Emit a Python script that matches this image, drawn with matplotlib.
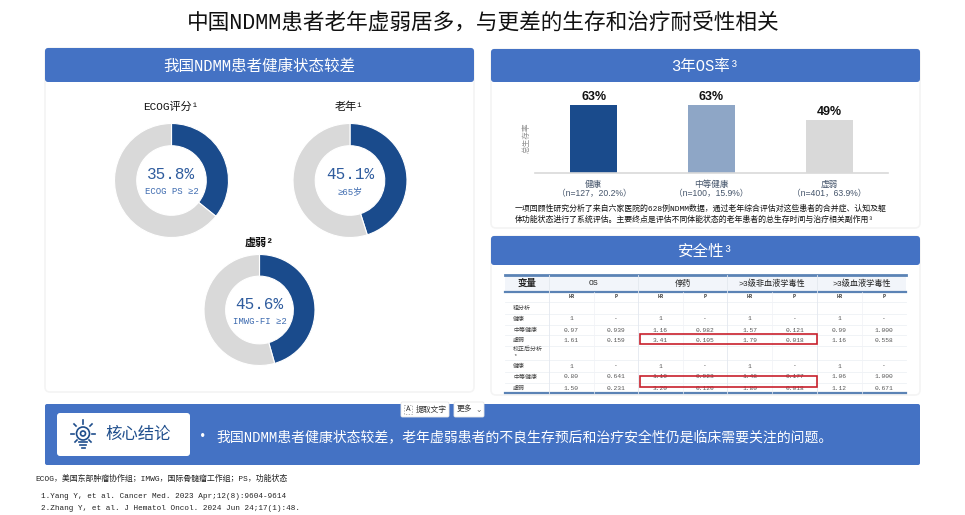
import matplotlib
matplotlib.use("Agg")
import matplotlib.pyplot as plt
from matplotlib.patches import FancyBboxPatch, Rectangle, Circle

W, H = 965, 515
FONT = ["Liberation Mono", "Noto Sans CJK SC"]
plt.rcParams["font.family"] = FONT

BLUE = "#4472C4"
NAVY = "#1A4B8C"
GREY = "#D9D9D9"
EDGE = "#F4F4F4"

# donuts
donut_titles = ["ECOG评分¹", "老年¹", "虚弱²"]
donut_values = [35.8, 45.1, 45.6]
donut_labels = ["35.8%", "45.1%", "45.6%"]
donut_subs = ["ECOG PS ≥2", "≥65岁", "IMWG-FI ≥2"]

# 3-year OS bars
os_names = ["健康\n（n=127，20.2%）", "中等健康\n（n=100，15.9%）", "虚弱\n（n=401，63.9%）"]
os_rates = [63, 63, 49]
os_colors = [NAVY, "#8EA6C6", GREY]

# safety table
group_heads = ["OS", "停药", ">3级非血液学毒性", ">3级血液学毒性"]
row_names = ["粗分析", "健康", "中等健康", "虚弱", "校正后分析\n*", "健康", "中等健康", "虚弱"]
row_values = [
    [],
    ["1", "-", "1", "-", "1", "-", "1", "-"],
    ["0.97", "0.939", "1.16", "0.982", "1.57", "0.121", "0.99", "1.000"],
    ["1.61", "0.159", "3.41", "0.105", "1.79", "0.018", "1.16", "0.558"],
    [],
    ["1", "-", "1", "-", "1", "-", "1", "-"],
    ["0.80", "0.641", "1.10", "0.923", "1.48", "0.177", "1.06", "1.000"],
    ["1.50", "0.231", "3.20", "0.120", "1.80", "0.018", "1.12", "0.671"],
]
row_centers = [308, 319, 330, 340.5, 352, 366, 377, 388]
row_lines = [302, 313.5, 324.5, 335, 345.5, 360, 371.5, 382.5]


def px_axes(x0, y0, x1, y1):
    return fig.add_axes([x0 / W, 1 - y1 / H, (x1 - x0) / W, (y1 - y0) / H])


def card(x0, y0, x1, y1, head_h, title):
    bg.add_patch(FancyBboxPatch((x0, y0), x1 - x0, y1 - y0, boxstyle="round,pad=0,rounding_size=5",
                                fc="white", ec=EDGE, lw=1.2, zorder=0))
    bg.add_patch(FancyBboxPatch((x0, y0), x1 - x0, head_h, boxstyle="round,pad=0,rounding_size=3",
                                fc=BLUE, ec="none"))
    bg.text((x0 + x1) / 2, y0 + head_h / 2 + 1, title, color="white", fontsize=11.2, ha="center", va="center")


def donut(cx, cy, r, i):
    ax = px_axes(cx - r, cy - r, cx + r, cy + r)
    ax.pie([donut_values[i], 100 - donut_values[i]], colors=[NAVY, GREY], startangle=90, counterclock=False,
           radius=1, wedgeprops=dict(width=0.39, edgecolor="white", linewidth=0.8))
    ax.set_xlim(-1, 1)
    ax.set_ylim(-1, 1)
    ax.text(0, 0.1, donut_labels[i], color="#2F5C9E", fontsize=11.5, ha="center", va="center")
    ax.text(0, -0.2, donut_subs[i], color="#3F6CB0", fontsize=6.5, ha="center", va="center")


fig = plt.figure(figsize=(W / 100, H / 100), dpi=100, facecolor="white")
bg = fig.add_axes([0, 0, 1, 1])
bg.set_xlim(0, W)
bg.set_ylim(H, 0)
bg.axis("off")

bg.text(483, 23, "中国NDMM患者老年虚弱居多，与更差的生存和治疗耐受性相关", fontsize=15.6,
        color="#111111", ha="center", va="center")

card(45, 48, 474, 392, 34, "我国NDMM患者健康状态较差")
card(491, 49, 920, 228, 33, "3年OS率³")
card(491, 236, 920, 395, 29, "安全性³")

# donut charts
donut(171.5, 180.5, 57, 0)
donut(350, 180.5, 57, 1)
donut(259.5, 310, 55.5, 2)
bg.text(171, 107, donut_titles[0], fontsize=8, ha="center", va="center", color="#111111")
bg.text(349, 107, donut_titles[1], fontsize=8, ha="center", va="center", color="#111111")
bg.text(259, 243, donut_titles[2], fontsize=8, fontweight="bold", ha="center", va="center", color="#111111")

# bar chart
bar_ax = px_axes(535, 82, 888, 173)
per_px = 63 / 68
bar_ax.set_ylim(0, 91 * per_px)
bar_ax.set_xlim(-0.5, 2.5)
bars = bar_ax.bar(range(3), os_rates, width=0.4, color=os_colors)
for b, v in zip(bars, os_rates):
    bar_ax.text(b.get_x() + b.get_width() / 2, v + 2, f"{v}%", ha="center", va="bottom",
                fontsize=9, fontweight="bold", family="Liberation Sans", color="#111111")
for s in ["top", "left", "right"]:
    bar_ax.spines[s].set_visible(False)
bar_ax.spines["bottom"].set_color("#D9D9D9")
bar_ax.spines["bottom"].set_linewidth(1.2)
bar_ax.set_yticks([])
bar_ax.set_xticks(range(3))
bar_ax.set_xticklabels(os_names, fontsize=6.2, color="#44546A", family=["Liberation Sans", "Noto Sans CJK SC"],
                       linespacing=1.05)
bar_ax.tick_params(axis="x", length=0, pad=5)
bar_ax.patch.set_alpha(0)
bg.text(527, 138, "总生存率", rotation=90, fontsize=5.5, color="#909090", ha="center", va="center")

bg.text(515, 209, "一项回顾性研究分析了来自六家医院的628例NDMM数据，通过老年综合评估对这些患者的合并症、认知及躯",
        fontsize=5.7, ha="left", va="center", color="#111111")
bg.text(515, 220, "体功能状态进行了系统评估。主要终点是评估不同体能状态的老年患者的总生存时间与治疗相关副作用³",
        fontsize=5.7, ha="left", va="center", color="#111111")

# safety table
cols = [505, 549, 638, 727, 817, 906]
bg.add_patch(Rectangle((505, 275), 401, 17, fc="#F2F5FA", ec="none"))
bg.plot([505, 906], [274.5, 274.5], color="#5B83B5", lw=2)
bg.plot([505, 906], [292, 292], color="#5B83B5", lw=1.6)
bg.plot([505, 906], [393, 393], color="#5B83B5", lw=1.6)
for y in row_lines:
    bg.plot([505, 906], [y, y], color="#EEF1F5", lw=0.6)
for x in cols[1:-1]:
    bg.plot([x, x], [275, 393], color="#E3E8EF", lw=0.6)
for a, b in zip(cols[1:], cols[2:]):
    bg.plot([(a + b) / 2] * 2, [292, 393], color="#F0F2F6", lw=0.5)
bg.text(527, 283.5, "变量", fontsize=6.8, fontweight="bold", ha="center", va="center", color="#222222")
for a, b, head in zip(cols[1:], cols[2:], group_heads):
    bg.text((a + b) / 2, 283.5, head, fontsize=5.9, ha="center", va="center", color="#222222")
    bg.text(a + (b - a) * 0.25, 297, "HR", fontsize=3.6, ha="center", va="center", fontweight="bold", color="#333333")
    bg.text(a + (b - a) * 0.75, 297, "P", fontsize=3.6, ha="center", va="center", fontweight="bold", color="#333333")
for name, vals, y in zip(row_names, row_values, row_centers):
    bg.text(513, y, name, fontsize=4.3, ha="left", va="center", color="#444444", linespacing=1.3)
    for j, v in enumerate(vals):
        a = cols[1 + j // 2]
        b = cols[2 + j // 2]
        x = a + (b - a) * (0.25 if j % 2 == 0 else 0.75)
        bg.text(x, y, v, fontsize=4.5, ha="center", va="center", color="#555555")
for y0, y1 in [(334, 344), (376, 387)]:
    bg.add_patch(Rectangle((640, y0), 177, y1 - y0, fc="none", ec="#C8202C", lw=1.2, zorder=5))

# conclusion banner
bg.add_patch(FancyBboxPatch((45, 404), 875, 61, boxstyle="round,pad=0,rounding_size=2", fc=BLUE, ec="none"))
bg.add_patch(FancyBboxPatch((57, 413), 133, 43, boxstyle="round,pad=0,rounding_size=3", fc="white", ec="none"))
bg.text(138, 434, "核心结论", fontsize=11.8, color="#1F4E8C", ha="center", va="center")
bg.add_patch(Circle((83, 433.5), 6.5, fc="none", ec="#1F4E8C", lw=1.2))
bg.add_patch(Circle((83, 433.5), 2.5, fc="none", ec="#1F4E8C", lw=1.2))
for x0, y0, x1, y1 in [(71, 434, 74, 434), (92, 434, 95, 434), (83, 420, 83, 424), (74, 424, 76, 426),
                       (92, 424, 90, 426), (75, 442, 77, 440), (91, 442, 89, 440)]:
    bg.plot([x0, x1], [y0, y1], color="#1F4E8C", lw=1.2)
for y, half in [(442, 4), (445, 3), (448, 1.5)]:
    bg.plot([83 - half, 83 + half], [y, y], color="#1F4E8C", lw=1.2)
bg.text(203, 437, "•", fontsize=9, color="white", ha="center", va="center")
bg.text(216, 437, "我国NDMM患者健康状态较差，老年虚弱患者的不良生存预后和治疗安全性仍是临床需要关注的问题。",
        fontsize=10, color="white", ha="left", va="center")

# viewer toolbar over the banner
bg.add_patch(FancyBboxPatch((401, 402), 48, 15, boxstyle="round,pad=0,rounding_size=1.5",
                            fc="white", ec="#E8E8E8", lw=0.6, zorder=6))
bg.add_patch(FancyBboxPatch((454, 402), 30, 15, boxstyle="round,pad=0,rounding_size=1.5",
                            fc="white", ec="#E8E8E8", lw=0.6, zorder=6))
bg.text(408, 409.5, "A", fontsize=5.5, ha="center", va="center", color="#333333", zorder=7)
bg.add_patch(Rectangle((404, 405), 8, 9, fc="none", ec="#999999", lw=0.5, ls=(0, (2, 2)), zorder=7))
bg.text(416, 409.5, "提取文字", fontsize=5.6, ha="left", va="center", color="#333333", zorder=7)
bg.text(457, 409.5, "更多", fontsize=5.6, ha="left", va="center", color="#333333", zorder=7)
bg.text(479, 409, "⌄", fontsize=5.5, ha="center", va="center", color="#666666", zorder=7,
        family=["DejaVu Sans"])

# footnotes
bg.text(35, 479, "ECOG，美国东部肿瘤协作组；IMWG，国际骨髓瘤工作组；PS，功能状态", fontsize=5.7,
        ha="left", va="center", color="#222222")
bg.text(41, 497, "1.Yang Y, et al. Cancer Med. 2023 Apr;12(8):9604-9614", fontsize=5.5,
        ha="left", va="center", color="#222222")
bg.text(41, 508, "2.Zhang Y, et al. J Hematol Oncol. 2024 Jun 24;17(1):48.", fontsize=5.5,
        ha="left", va="center", color="#222222")

fig.savefig("out.png", dpi=100)
